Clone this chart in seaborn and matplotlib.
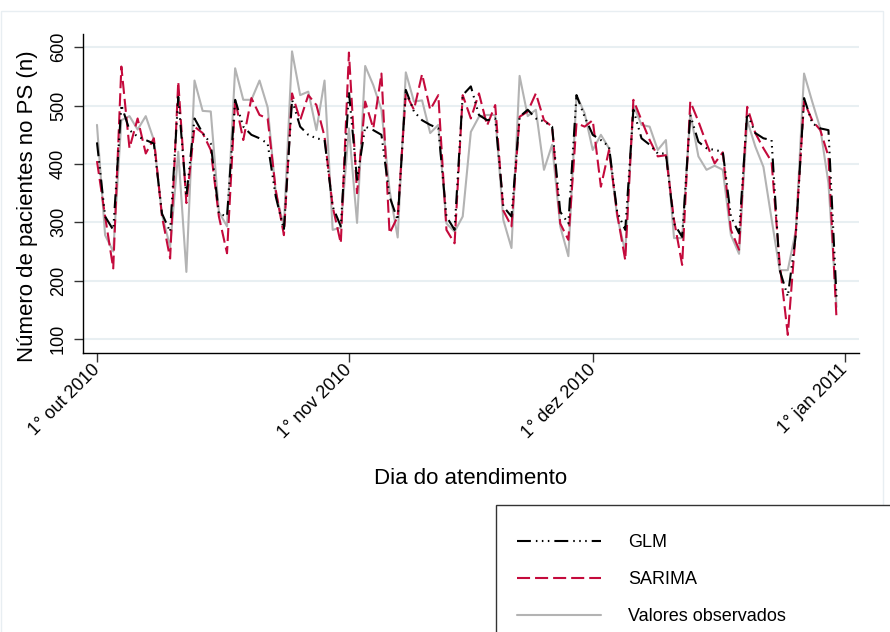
import numpy as np
import pandas as pd
import matplotlib
matplotlib.use("Agg")
import matplotlib.pyplot as plt
import matplotlib.dates as mdates
from matplotlib.lines import Line2D
from matplotlib.patches import Rectangle
import seaborn as sns

# Daily emergency-room visits, 1 Oct 2010 - 31 Dec 2010
start_date = "2010-10-01"
n_days = 92

observados = [
    467, 278, 250, 475, 482, 459, 482, 441, 313, 258, 421, 215, 543, 491, 490, 318,
    293, 564, 510, 510, 543, 497, 350, 293, 593, 518, 524, 458, 543, 287, 291, 461,
    299, 568, 535, 493, 355, 274, 557, 507, 509, 453, 467, 298, 284, 310, 455, 481,
    484, 484, 304, 256, 551, 482, 493, 390, 433, 293, 242, 518, 487, 424, 450, 427,
    310, 250, 501, 467, 464, 424, 441, 273, 273, 487, 413, 390, 397, 390, 278, 246,
    475, 430, 395, 306, 218, 218, 287, 555, 507, 461, 367, 155,
]

glm = [
    437, 310, 287, 501, 458, 447, 441, 435, 315, 284, 515, 344, 478, 453, 435, 315,
    310, 510, 464, 450, 444, 435, 344, 287, 510, 464, 450, 444, 441, 327, 293, 524,
    373, 464, 458, 450, 344, 304, 527, 490, 475, 467, 461, 310, 287, 518, 533, 484,
    475, 478, 327, 310, 481, 493, 478, 473, 464, 318, 298, 518, 481, 450, 441, 430,
    318, 287, 493, 444, 433, 418, 418, 298, 275, 484, 438, 427, 424, 421, 310, 281,
    487, 453, 444, 441, 218, 173, 280, 513, 470, 461, 458, 170,
]

sarima = [
    405, 310, 221, 567, 427, 478, 418, 444, 310, 238, 541, 333, 464, 453, 424, 310,
    247, 510, 441, 513, 484, 478, 355, 278, 521, 475, 518, 501, 447, 327, 264, 591,
    350, 507, 461, 555, 281, 310, 521, 493, 554, 493, 518, 287, 264, 518, 478, 521,
    466, 501, 320, 293, 481, 490, 521, 475, 464, 298, 270, 470, 464, 475, 361, 424,
    315, 235, 510, 475, 441, 413, 415, 304, 227, 507, 473, 435, 401, 420, 287, 253,
    498, 453, 427, 404, 230, 107, 287, 507, 475, 458, 413, 133,
]

tick_dates = ["2010-10-01", "2010-11-01", "2010-12-01", "2011-01-01"]
tick_labels = ["1° out 2010", "1° nov 2010", "1° dez 2010", "1° jan 2011"]
y_ticks = [100, 200, 300, 400, 500, 600]

series_names = ["GLM", "SARIMA", "Valores observados"]

dias = pd.date_range(start_date, periods=n_days, freq="D")
df = pd.DataFrame({
    "dia": dias,
    "Valores observados": observados,
    "GLM": glm,
    "SARIMA": sarima,
})

sns.set_style("ticks")
plt.rcParams["font.family"] = ["Liberation Sans", "DejaVu Sans"]
plt.rcParams["lines.scale_dashes"] = False
plt.rcParams["text.color"] = "black"
plt.rcParams["axes.labelcolor"] = "black"

W, H = 890, 632
fig = plt.figure(figsize=(W / 100, H / 100), dpi=100)
fig.patch.set_facecolor("white")

# faint outer graph-region frame
fig.patches.append(Rectangle((1 / W, -0.1), (882 / W), 1.1 - 11 / H,
                             transform=fig.transFigure, fill=False,
                             edgecolor="#e8eef2", linewidth=1.0, zorder=0))

ax = fig.add_axes([83 / W, 1 - 353 / H, (859 - 83) / W, (353 - 34) / H])

red = "#c40a3c"
gray = "#b3b3b3"
lw = 1.5

glm_dash = (0, (10, 3.6, 1.1, 3.2, 1.1, 3.2, 1.1, 3.6))
sarima_dash = (0, (9.4, 3.6))

sns.lineplot(data=df, x="dia", y="Valores observados", ax=ax, color=gray,
             linewidth=lw, zorder=3)
sns.lineplot(data=df, x="dia", y="SARIMA", ax=ax, color=red,
             linewidth=lw, linestyle=sarima_dash, zorder=4)
sns.lineplot(data=df, x="dia", y="GLM", ax=ax, color="black",
             linewidth=lw, linestyle=glm_dash, zorder=5)

# axes limits
d0 = mdates.date2num(pd.Timestamp(start_date))
ax.set_xlim(d0 - 1.72, d0 + 93.76)
ax.set_ylim(76.0, 622.8)

# grid
ax.set_yticks(y_ticks)
ax.yaxis.grid(True, color="#e8eff2", linewidth=1.5)
ax.xaxis.grid(False)
ax.set_axisbelow(True)

# spines
for s in ["top", "right"]:
    ax.spines[s].set_visible(False)
for s in ["left", "bottom"]:
    ax.spines[s].set_color("black")
    ax.spines[s].set_linewidth(1.0)

# ticks and labels
ax.set_xticks([mdates.date2num(pd.Timestamp(d)) for d in tick_dates])
ax.set_xticklabels(tick_labels, rotation=45, ha="right", va="center",
                   rotation_mode="anchor", fontsize=13)
ax.set_yticklabels([str(v) for v in y_ticks], rotation=90, va="center",
                   ha="right", fontsize=13)
ax.tick_params(axis="both", direction="out", length=6.5, width=1.0,
               color="#333333", labelcolor="black")
ax.tick_params(axis="x", pad=4)
ax.tick_params(axis="y", pad=5)

ax.set_xlabel("Dia do atendimento", fontsize=16, color="black")
ax.set_ylabel("Número de pacientes no PS (n)", fontsize=16, color="black")
ax.xaxis.set_label_coords(0.5, -0.36)
ax.yaxis.set_label_coords(-0.058, 0.461)

# legend frame that runs off the figure edge
fig.patches.append(Rectangle((496 / W, -0.1), 1.0, 0.1 + 1 - 505 / H,
                             transform=fig.transFigure, facecolor="white",
                             edgecolor="#333333", linewidth=1.0, zorder=1))

handles = [
    Line2D([], [], color="black", linewidth=lw, linestyle=glm_dash),
    Line2D([], [], color=red, linewidth=lw, linestyle=sarima_dash),
    Line2D([], [], color=gray, linewidth=lw),
]
leg = fig.legend(handles, series_names, loc="upper left",
                 bbox_to_anchor=(508 / W, 1 - 525 / H), frameon=False,
                 borderpad=0, fontsize=13, handlelength=4.65,
                 handletextpad=1.5, labelspacing=1.12)
for t in leg.get_texts():
    t.set_color("black")
leg.set_zorder(2)

fig.savefig("out.png", dpi=100, facecolor="white")
